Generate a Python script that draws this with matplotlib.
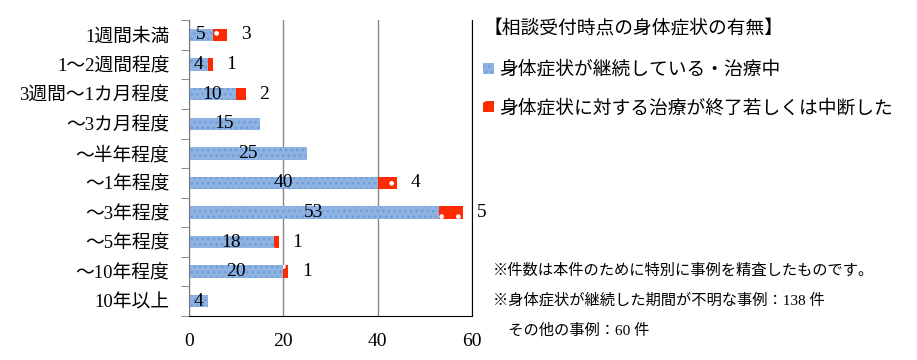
import matplotlib
matplotlib.use('Agg')
import matplotlib.pyplot as plt
from matplotlib.patches import Patch

plt.rcParams['font.family'] = ['Liberation Serif', 'Noto Sans CJK JP']
plt.rcParams['hatch.linewidth'] = 1.0

categories = ['1週間未満', '1〜2週間程度', '3週間〜1カ月程度', '〜3カ月程度', '〜半年程度',
              '〜1年程度', '〜3年程度', '〜5年程度', '〜10年程度', '10年以上']
ongoing = [5, 4, 10, 15, 25, 40, 53, 18, 20, 4]
ended = [3, 1, 2, 0, 0, 4, 5, 1, 1, 0]

legend_title = '【相談受付時点の身体症状の有無】'
series_names = ['身体症状が継続している・治療中', '身体症状に対する治療が終了若しくは中断した']
notes = ['※件数は本件のために特別に事例を精査したものです。',
         '※身体症状が継続した期間が不明な事例：138 件',
         '　その他の事例：60 件']

blue = '#8db3e2'
red = '#ff2a00'

fig = plt.figure(figsize=(9.17, 3.6), dpi=100)
ax = fig.add_axes([0.206, 0.122, 0.309, 0.822])

y = list(range(len(categories)))
b1 = ax.barh(y, ongoing, height=0.42, color=blue, edgecolor='#6f9bd6', hatch='...', linewidth=0)
b2 = ax.barh(y, ended, left=ongoing, height=0.42, color=red, edgecolor='white', hatch='.', linewidth=0)

ax.bar_label(b1, labels=[str(v) for v in ongoing], label_type='center', fontsize=14, color='black')
ax.bar_label(b2, labels=[str(v) if v else '' for v in ended], padding=10, fontsize=14, color='black')

ax.set_xlim(0, 60)
ax.set_ylim(len(categories) - 0.5, -0.5)
ax.set_xticks([0, 20, 40, 60])
ax.tick_params(axis='x', length=0, labelsize=14, pad=12)
ax.set_yticks(y)
ax.set_yticklabels(categories, fontsize=13.5)
ax.set_yticks([i + 0.5 for i in range(-1, len(categories))], minor=True)
ax.tick_params(axis='y', which='major', length=0, pad=14)
ax.tick_params(axis='y', which='minor', length=6, color='#777777', direction='out')
ax.grid(axis='x', color='#888888', linewidth=1)
ax.set_axisbelow(True)
ax.spines['top'].set_visible(False)
ax.spines['left'].set_color('#777777')
ax.spines['right'].set_color('black')
ax.spines['bottom'].set_color('black')

handles = [Patch(facecolor=blue, edgecolor='#6f9bd6', hatch='...', linewidth=0),
           Patch(facecolor=red, edgecolor='white', hatch='.', linewidth=0)]
fig.text(0.527, 0.918, legend_title, fontsize=13.5, va='center', ha='left')
leg = fig.legend(handles, series_names, loc='upper left', bbox_to_anchor=(0.527, 0.83),
                 frameon=False, fontsize=13.5, handlelength=0.55, handleheight=0.55,
                 handletextpad=0.3, labelspacing=1.1, borderpad=0, borderaxespad=0)

fig.text(0.538, 0.25, notes[0], fontsize=11, va='center')
fig.text(0.538, 0.167, notes[1], fontsize=11, va='center')
fig.text(0.538, 0.08, notes[2], fontsize=11, va='center')

fig.savefig('out.png', dpi=100)
